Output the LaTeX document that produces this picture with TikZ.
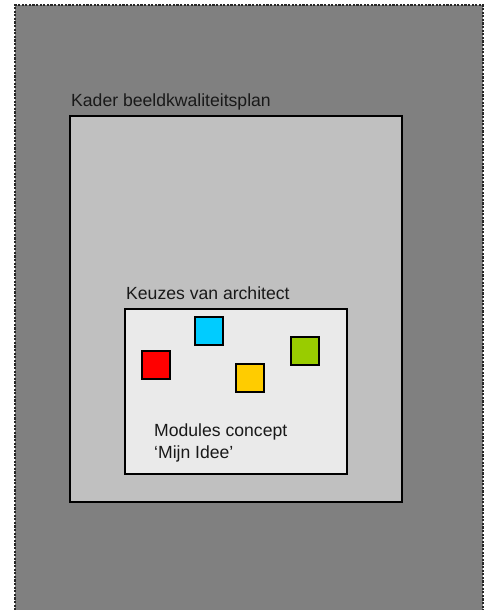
\documentclass[tikz,border=0pt]{standalone}
\usepackage{fontspec}
\setmainfont{Liberation Sans}
\begin{document}
\begin{tikzpicture}[x=1pt,y=-1pt,
  frame/.style={draw=black,line width=2.6pt,inner sep=0pt,rectangle},
  tile/.style={draw=black,line width=2pt,minimum width=28pt,minimum height=28pt,inner sep=0pt,rectangle},
  caption/.style={anchor=base west,inner sep=0pt,text=black!90,font=\fontsize{17.6}{22}\selectfont}]
  \definecolor{outergray}{HTML}{808080}
  \definecolor{midgray}{HTML}{C0C0C0}
  \definecolor{innergray}{HTML}{EAEAEA}
  \definecolor{tilecyan}{HTML}{00CCFF}
  \definecolor{tilered}{HTML}{FF0000}
  \definecolor{tileyellow}{HTML}{FFCC00}
  \definecolor{tilegreen}{HTML}{99CC00}
  \clip (0,0) rectangle (484,610);
  \fill[white] (0,0) rectangle (484,610);
  % outer area with dotted border
  \node[rectangle,fill=outergray,draw=black!85,line width=2.6pt,dash pattern=on 2.2pt off 1.4pt,
        minimum width=468pt,minimum height=610pt,inner sep=0pt] (outer) at (249,310) {};
  % framework of the image quality plan
  \node[frame,fill=midgray,minimum width=332pt,minimum height=386pt] (kader) at (236,309) {};
  \node[caption] (kaderlbl) at (71,106) {Kader beeldkwaliteitsplan};
  % architect's choices
  \node[frame,fill=innergray,line width=2.4pt,minimum width=222pt,minimum height=165pt] (keuzes) at (236,391.5) {};
  \node[caption] (keuzeslbl) at (126,299) {Keuzes van architect};
  % modules
  \node[tile,fill=tilecyan] (cyan) at (208.5,331) {};
  \node[tile,fill=tilered] (red) at (155.5,365) {};
  \node[tile,fill=tileyellow] (yellow) at (250,378) {};
  \node[tile,fill=tilegreen] (green) at (305,351) {};
  \node[caption] (mod1) at (154,436) {Modules concept};
  \node[caption] (mod2) at (154,458) {‘Mijn Idee’};
\end{tikzpicture}
\end{document}
